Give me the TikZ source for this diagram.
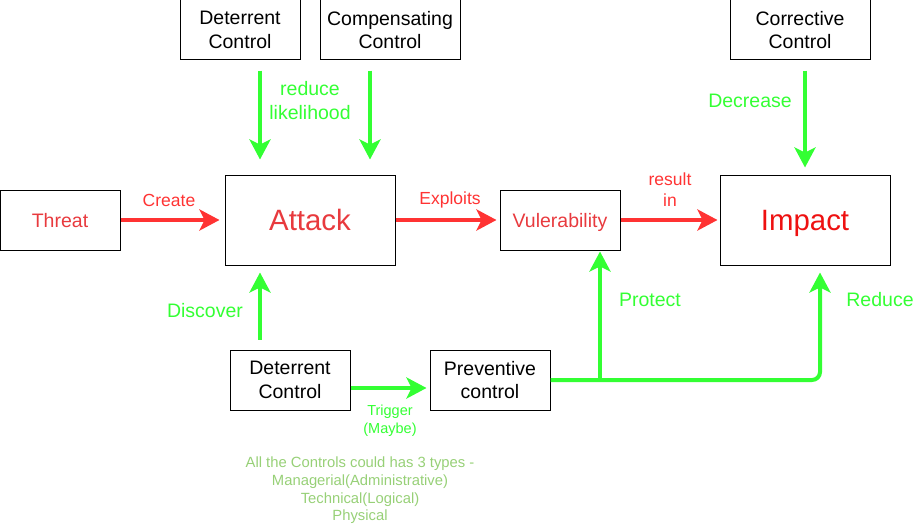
\documentclass[tikz,border=0pt]{standalone}
\usepackage{fontspec}
\setmainfont{Liberation Sans}
\usetikzlibrary{arrows.meta}
\definecolor{gr}{HTML}{33FF33}
\definecolor{rd}{HTML}{FF3333}
\definecolor{rdtext}{HTML}{E83A3E}
\definecolor{rdimp}{HTML}{EE1111}
\definecolor{notec}{HTML}{97D077}
\begin{document}
\begin{tikzpicture}[x=1pt,y=-1pt,
  box/.style={draw=black,line width=1pt,inner sep=0pt,align=center,font=\fontsize{19.5}{23.5}\selectfont},
  oneline/.style={text height=14pt,text depth=0pt},
  bigbox/.style={box,text height=21pt,text depth=0pt,minimum width=170pt,minimum height=90pt,text=rdtext,font=\fontsize{29.4}{34}\selectfont},
  smallbox/.style={box,minimum width=120pt,minimum height=60pt},
  widebox/.style={box,minimum width=140pt,minimum height=60pt},
  garrow/.style={draw=gr,line width=4pt,-{Stealth[length=20pt,width=21pt,inset=5pt]}},
  rarrow/.style={draw=rd,line width=4pt,-{Stealth[length=20pt,width=21pt,inset=5pt]}},
  glbl/.style={text=gr,inner sep=0pt,align=center,font=\fontsize{19.5}{24}\selectfont},
  rlbl/.style={text=rd,inner sep=0pt,align=center,font=\fontsize{17.5}{20.7}\selectfont},
  slbl/.style={text=gr,inner sep=0pt,align=center,font=\fontsize{14.5}{18}\selectfont},
  notelbl/.style={text=notec,inner sep=0pt,align=center,font=\fontsize{14.8}{17.6}\selectfont}
]
\useasboundingbox (0,0) rectangle (915,527);

% boxes
\node[smallbox,oneline,text=rdtext] (threat) at (60,220) {Threat};
\node[bigbox] (attack) at (310,220) {Attack};
\node[smallbox,oneline,text=rdtext] (vuln) at (560,220) {Vulerability};
\node[bigbox,text=rdimp] (impact) at (805,220) {Impact};
\node[smallbox] (det1) at (240,30) {Deterrent\\Control};
\node[widebox] (comp) at (390,30) {Compensating\\Control};
\node[widebox] (corr) at (800,30) {Corrective\\Control};
\node[smallbox] (det2) at (290,380) {Deterrent\\Control};
\node[smallbox] (prev) at (490,380) {Preventive\\control};

% red arrows
\draw[rarrow,shorten >=5pt] (threat.east) -- (attack.west);
\draw[rarrow,shorten >=3pt] (attack.east) -- (vuln.west);
\draw[rarrow,shorten >=2pt] (vuln.east) -- (impact.west);

% green arrows from top
\draw[garrow,shorten <=10pt,shorten >=15pt] ([xshift=20pt]det1.south) -- ([xshift=-50pt]attack.north);
\draw[garrow,shorten <=10pt,shorten >=15pt] ([xshift=-20pt]comp.south) -- ([xshift=60pt]attack.north);
\draw[garrow,shorten <=10pt,shorten >=7pt] ([xshift=5pt]corr.south) -- (impact.north);

% discover
\draw[garrow,shorten <=10pt,shorten >=7pt] ([xshift=-30pt]det2.north) -- ([xshift=-50pt]attack.south);
% trigger
\draw[garrow,shorten >=3pt] ([yshift=-8pt]det2.east) -- ([yshift=-8pt]prev.west);
% preventive to impact
\coordinate (br) at (600,380);
\draw[garrow,rounded corners=8pt,shorten >=7pt] (prev.east) -| ([xshift=15pt]impact.south);
\draw[garrow,shorten >=1pt] (br) -- (br |- vuln.south);

% labels
\node[rlbl] (lcreate) at (169,200) {Create};
\node[rlbl] (lexpl) at (450,200) {Exploits};
\node[rlbl] (lres) at (670,190) {result\\in};
\node[glbl] (lred) at (310,101) {reduce\\likelihood};
\node[glbl] (ldec) at (750,101) {Decrease};
\node[glbl] (ldisc) at (205,311) {Discover};
\node[glbl] (lprot) at (650,300) {Protect};
\node[glbl] (lreduce) at (880,300) {Reduce};
\node[slbl] (ltrig) at (390,421) {Trigger\\(Maybe)};
\node[notelbl] (note) at (360,490.5) {All the Controls could has 3 types -\\Managerial(Administrative)\\Technical(Logical)\\Physical};
\end{tikzpicture}
\end{document}
